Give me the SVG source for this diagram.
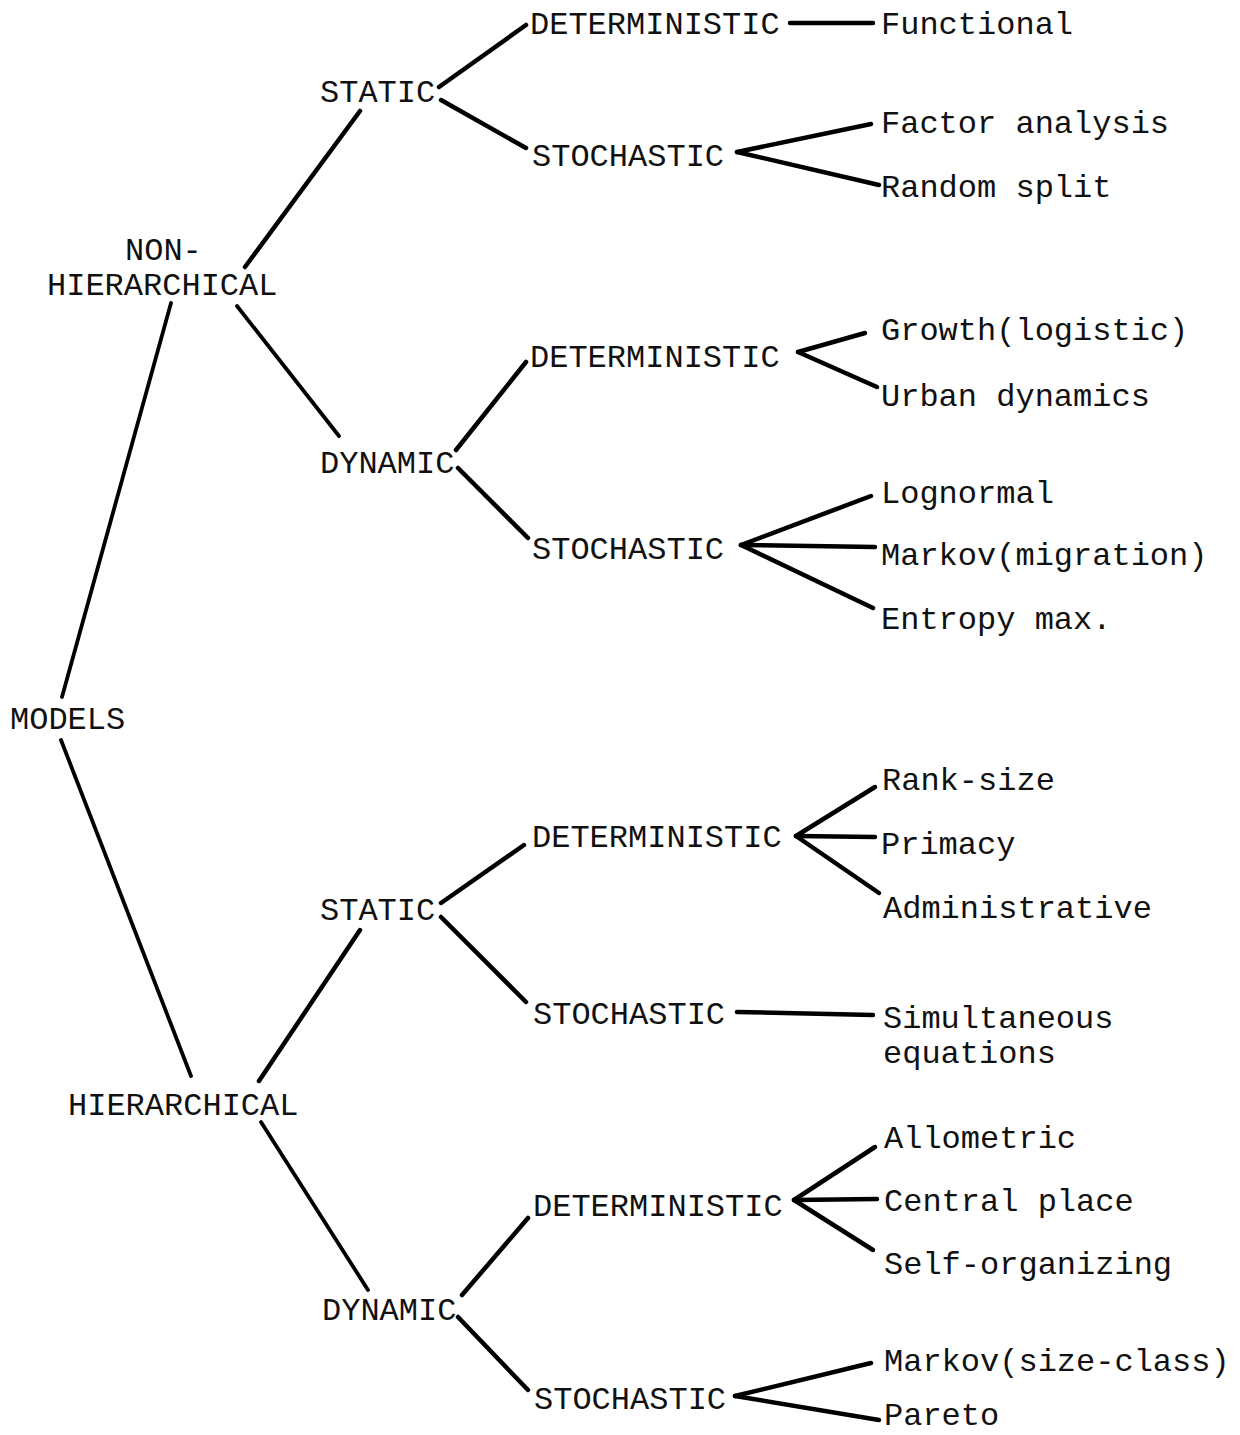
<svg xmlns="http://www.w3.org/2000/svg" width="1240" height="1435" viewBox="0 0 1240 1435">
<style>
text{font-family:"Liberation Mono","Courier New",monospace;font-size:32px;fill:#111;}
.c line{stroke:#000;stroke-width:4.5;stroke-linecap:round;}
.c line.t{stroke-width:3.8;}
</style>
<rect width="1240" height="1435" fill="#fff"/>
<g class="c" id="connectors">
<line class="t" x1="62" y1="697" x2="171" y2="303"/>
<line class="t" x1="61" y1="740" x2="191" y2="1076"/>
<line x1="245" y1="267" x2="360" y2="111"/>
<line class="t" x1="237" y1="306" x2="339" y2="436"/>
<line x1="439" y1="87" x2="526" y2="25"/>
<line x1="441" y1="100" x2="526" y2="148"/>
<line x1="790" y1="23" x2="873" y2="23"/>
<line x1="737" y1="152" x2="871" y2="124"/>
<line x1="737" y1="152" x2="879" y2="185"/>
<line x1="456" y1="450" x2="526" y2="362"/>
<line x1="458" y1="468" x2="528" y2="538"/>
<line x1="798" y1="352" x2="865" y2="333"/>
<line x1="798" y1="352" x2="877" y2="387"/>
<line x1="741" y1="545" x2="871" y2="496"/>
<line x1="741" y1="545" x2="875" y2="547"/>
<line x1="741" y1="545" x2="873" y2="608"/>
<line x1="259" y1="1081" x2="360" y2="930"/>
<line x1="441" y1="903" x2="524" y2="845"/>
<line x1="441" y1="917" x2="526" y2="1002"/>
<line x1="796" y1="836" x2="875" y2="787"/>
<line x1="796" y1="836" x2="875" y2="837"/>
<line x1="796" y1="836" x2="879" y2="893"/>
<line x1="737" y1="1012" x2="873" y2="1015"/>
<line class="t" x1="261" y1="1122" x2="368" y2="1290"/>
<line x1="462" y1="1295" x2="528" y2="1218"/>
<line x1="458" y1="1317" x2="528" y2="1390"/>
<line x1="794" y1="1200" x2="875" y2="1147"/>
<line x1="794" y1="1200" x2="877" y2="1199"/>
<line x1="794" y1="1200" x2="873" y2="1250"/>
<line x1="735" y1="1396" x2="871" y2="1363"/>
<line x1="735" y1="1396" x2="879" y2="1420"/>
</g>
<g id="models"><text x="10" y="729">MODELS</text></g>
<g id="nonhier"><text x="125" y="260">NON-</text><text x="47" y="295">HIERARCHICAL</text></g>
<g id="hier"><text x="68" y="1115">HIERARCHICAL</text></g>
<g id="nh-static"><text x="320" y="102">STATIC</text></g>
<g id="nh-dynamic"><text x="320" y="473">DYNAMIC</text></g>
<g id="h-static"><text x="320" y="920">STATIC</text></g>
<g id="h-dynamic"><text x="322" y="1320">DYNAMIC</text></g>
<g id="det1"><text x="530" y="34">DETERMINISTIC</text></g>
<g id="sto1"><text x="532" y="166">STOCHASTIC</text></g>
<g id="det2"><text x="530" y="367">DETERMINISTIC</text></g>
<g id="sto2"><text x="532" y="559">STOCHASTIC</text></g>
<g id="det3"><text x="532" y="847">DETERMINISTIC</text></g>
<g id="sto3"><text x="533" y="1024">STOCHASTIC</text></g>
<g id="det4"><text x="533" y="1216">DETERMINISTIC</text></g>
<g id="sto4"><text x="534" y="1409">STOCHASTIC</text></g>
<g id="functional"><text x="881" y="34">Functional</text></g>
<g id="factor"><text x="881" y="133">Factor analysis</text></g>
<g id="random"><text x="881" y="197">Random split</text></g>
<g id="growth"><text x="881" y="340">Growth(logistic)</text></g>
<g id="urban"><text x="881" y="406">Urban dynamics</text></g>
<g id="lognormal"><text x="881" y="503">Lognormal</text></g>
<g id="markov1"><text x="881" y="565">Markov(migration)</text></g>
<g id="entropy"><text x="881" y="629">Entropy max.</text></g>
<g id="ranksize"><text x="882" y="790">Rank-size</text></g>
<g id="primacy"><text x="881" y="854">Primacy</text></g>
<g id="admin"><text x="883" y="918">Administrative</text></g>
<g id="simul"><text x="883" y="1028">Simultaneous</text><text x="883" y="1063">equations</text></g>
<g id="allometric"><text x="884" y="1148">Allometric</text></g>
<g id="central"><text x="884" y="1211">Central place</text></g>
<g id="selforg"><text x="884" y="1274">Self-organizing</text></g>
<g id="markov2"><text x="884" y="1371">Markov(size-class)</text></g>
<g id="pareto"><text x="884" y="1425">Pareto</text></g>
</svg>
